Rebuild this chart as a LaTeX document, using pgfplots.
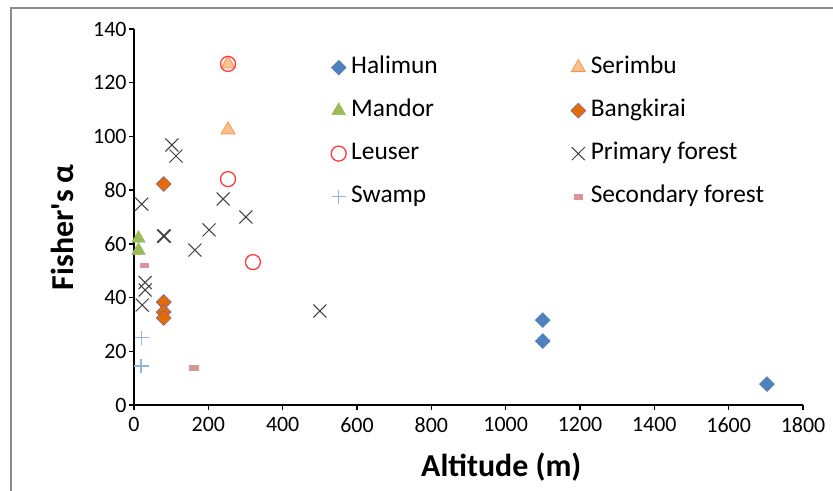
\documentclass[border=0pt]{standalone}
\usepackage{pgfplots}
\pgfplotsset{compat=1.18}
\usepackage{fontspec}
\setmainfont{Carlito}
\newfontfamily\nomap{Carlito}
\definecolor{hal}{HTML}{4F81BD}
\definecolor{serF}{HTML}{FAC090}
\definecolor{serD}{HTML}{F79646}
\definecolor{man}{HTML}{9BBB59}
\definecolor{banF}{HTML}{E36C09}
\definecolor{banD}{HTML}{8064A2}
\definecolor{leu}{HTML}{FF3B3B}
\definecolor{pri}{HTML}{404040}
\definecolor{swa}{HTML}{95B3D7}
\definecolor{sec}{HTML}{D99694}
\pgfplotsset{lm/.style={only marks, legend image code/.code={\path[draw=none,fill=none] (0bp,0bp) -- (19bp,0bp);\draw[mark repeat=2,mark phase=2,##1,only marks] plot coordinates {(0bp,0bp) (8bp,0bp) (19bp,0bp)};}}}
\begin{document}
\begin{tikzpicture}
\useasboundingbox (0,0) rectangle (833bp,491bp);
\draw[color=black!45, line width=2bp] (11bp,0) -- (11bp,483bp) -- (833bp,483bp);
\begin{axis}[
  at={(134bp,86bp)}, anchor=south west,
  scale only axis, width=669bp, height=376bp,
  xmin=0, xmax=1800, ymin=0, ymax=140,
  xtick distance=200, ytick distance=20,
  axis lines*=left,
  axis line style={line width=1.5bp, black},
  tick align=outside,
  major tick length=5bp,
  every tick/.style={black, line width=1.5bp},
  tick label style={font=\fontsize{22}{22}\selectfont, black},
  xticklabel style={yshift=-4bp},
  yticklabel style={xshift=1bp},
  /pgf/number format/assume math mode=true,
  /pgf/number format/1000 sep={},
  xlabel={\textbf{Altitude (m)}},
  ylabel={{\nomap\bfseries Fisher's α}},
  label style={font=\fontsize{32}{32}\selectfont},
  xlabel style={at={(axis description cs:0.549,-0.165)}, anchor=center},
  ylabel style={at={(axis description cs:-0.1076,0.473)}, anchor=center},
  clip=false,
  legend columns=2,
  legend cell align=left,
  legend style={draw=none, fill=none, inner sep=0pt,
    at={(axis description cs:0.2937,0.931)}, anchor=north west,
    font=\fontsize{25.5}{25.5}\selectfont,
    nodes={inner sep=1.5bp, text height=17bp, text depth=5bp},
    row sep=18bp,
    /tikz/every even column/.append style={column sep=131bp}},
]
\addplot[lm, mark=square*, mark size=5.3bp, mark options={rotate=45, fill=hal, draw=hal}]
  coordinates {(1100,31.6) (1100,23.8) (1703,7.8)};
\addlegendentry{Halimun}
\addplot[lm, mark=triangle*, mark size=8bp, mark options={fill=serF, draw=serD, line width=0.8bp}]
  coordinates {(253,127) (253,102.4)};
\addlegendentry{Serimbu}
\addplot[lm, mark=triangle*, mark size=8bp, mark options={fill=man, draw=man}]
  coordinates {(12,62) (12,57.5)};
\addlegendentry{Mandor}
\addplot[lm, mark=square*, mark size=5.3bp, mark options={rotate=45, fill=banF, draw=banD, line width=0.6bp}]
  coordinates {(80,82.3) (80,38.3) (80,34.6) (80,32.4)};
\addlegendentry{Bangkirai}
\addplot[lm, mark=o, mark size=7.5bp, mark options={draw=leu, line width=1.3bp}]
  coordinates {(253,127) (253,84.1) (320,53.2)};
\addlegendentry{Leuser}
\addplot[lm, mark=x, mark size=9.2bp, mark options={draw=pri, line width=1bp}]
  coordinates {(21,74.8) (102,96.8) (113,92.7) (79,62.9) (82,62.9) (164,57.7) (202,65.2) (240,76.7) (301,70) (22,37.2) (30,42.8) (30,45.6) (500,35)};
\addlegendentry{Primary forest}
\addplot[lm, mark=+, mark size=7bp, mark options={draw=swa, line width=1.2bp}]
  coordinates {(21,25) (21,14.5) (18,14.5)};
\addlegendentry{Swamp}
\addplot[lm, mark=square*, mark size=4.2bp, mark options={yscale=0.56, fill=sec, draw=sec}]
  coordinates {(27,52) (161,13.8)};
\addlegendentry{Secondary forest}
\end{axis}
\end{tikzpicture}
\end{document}
